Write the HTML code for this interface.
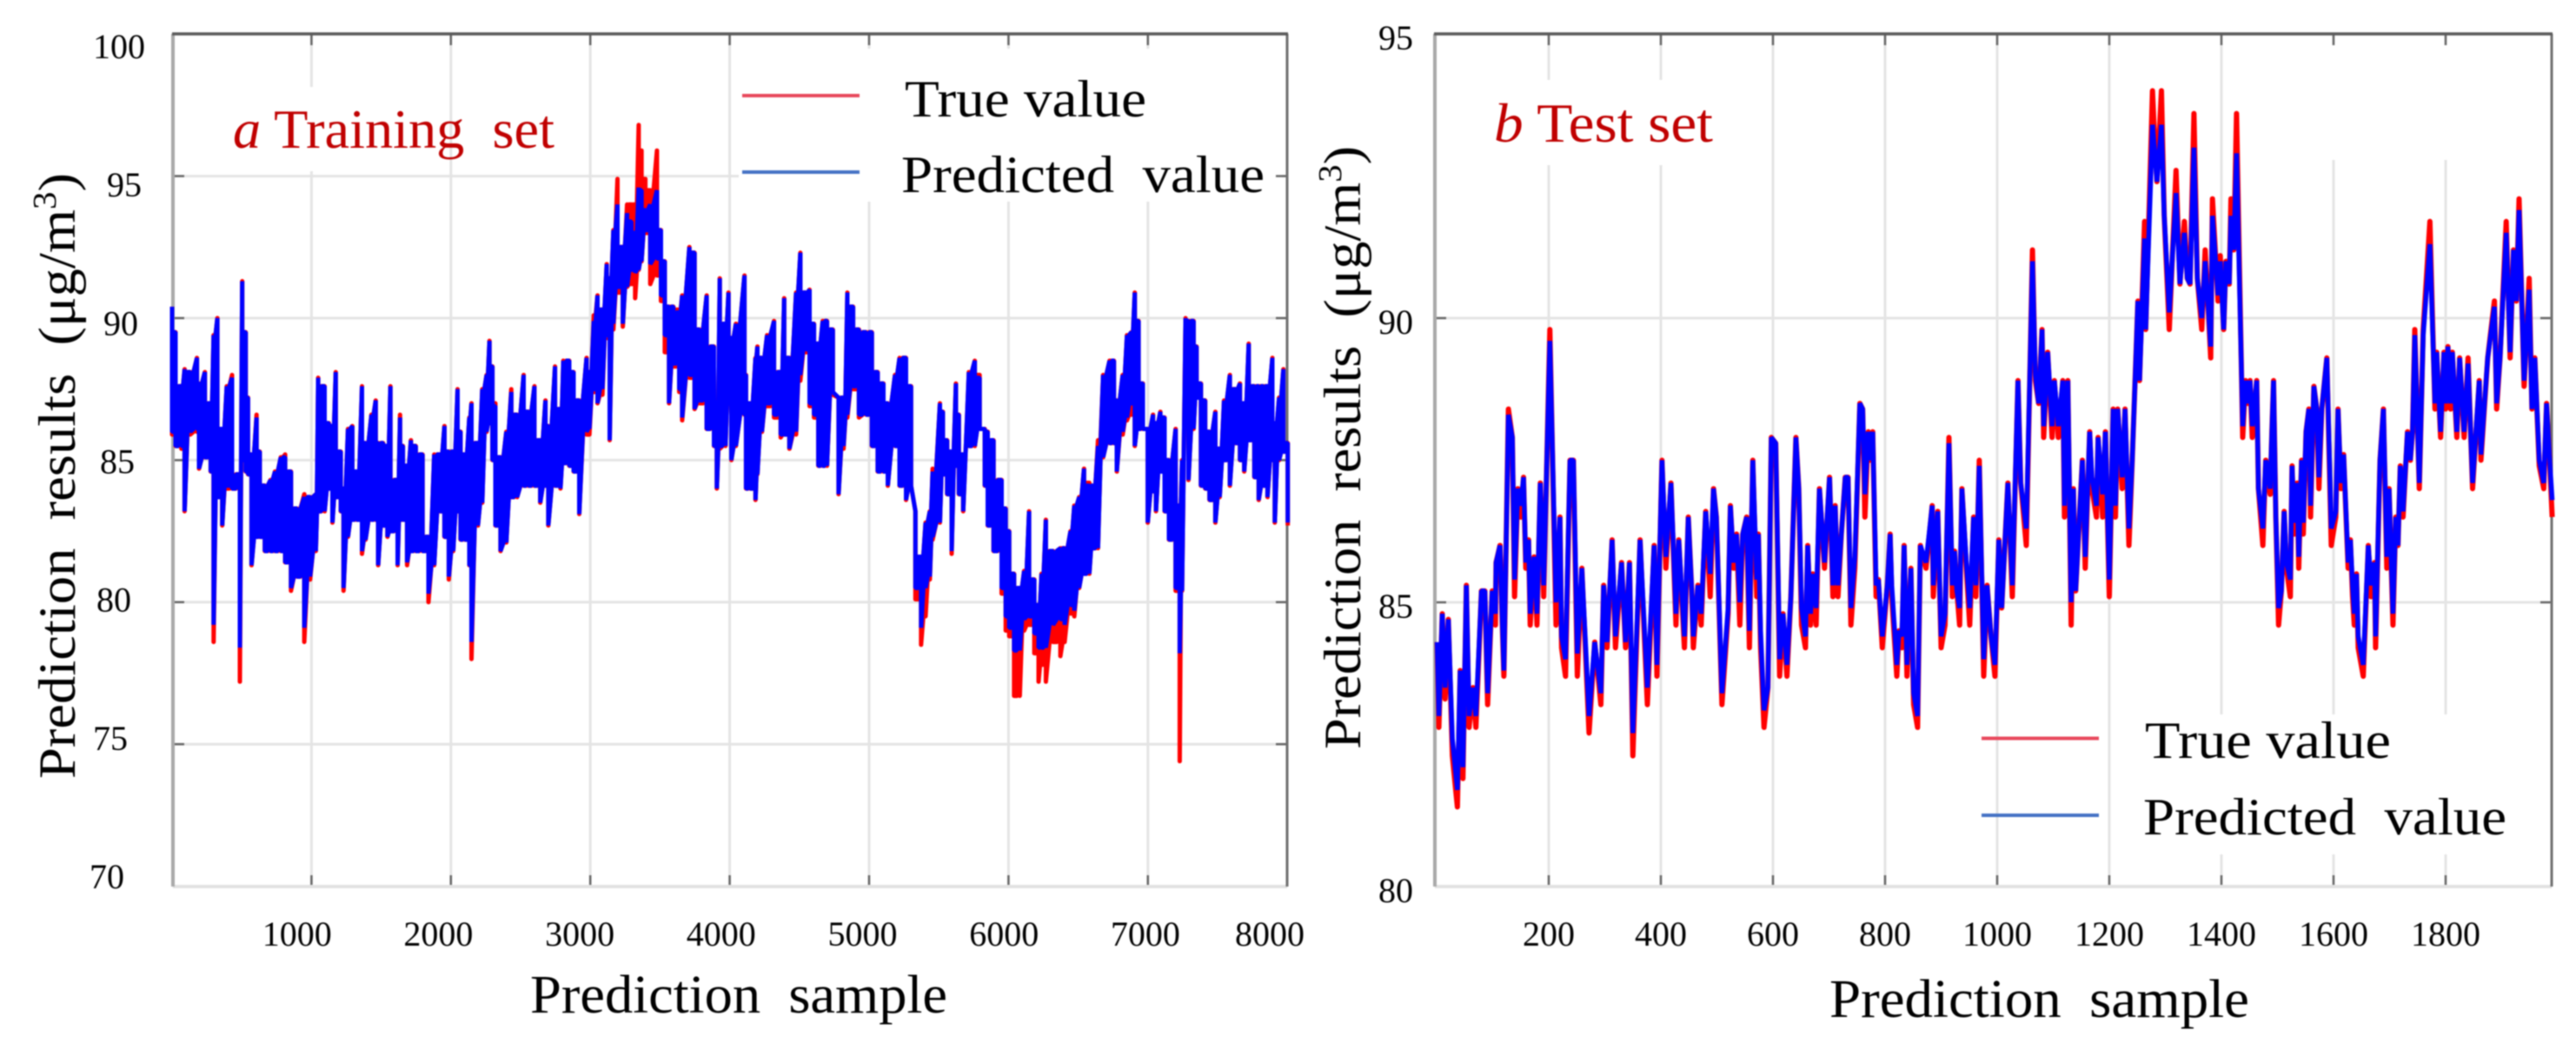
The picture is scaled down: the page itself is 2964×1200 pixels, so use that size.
<!DOCTYPE html>
<html lang="en">
<head>
<meta charset="utf-8">
<title>Prediction results: training set and test set</title>
<style>
html,body{margin:0;padding:0;background:#fff;}
svg{display:block;filter:blur(0.7px);font-family:"Liberation Serif",serif;}
text{white-space:pre;}
</style>
</head>
<body>
<svg id="chart" xmlns="http://www.w3.org/2000/svg" width="2964" height="1200" viewBox="0 0 2964 1200">
  <rect x="0" y="0" width="2964" height="1200" fill="#fff"/>
  <g id="panel-a"></g>
  <g id="panel-b"></g>

  <text x="268" y="170" font-size="63" fill="#c00000" textLength="370" lengthAdjust="spacingAndGlyphs"><tspan font-style="italic">a</tspan> Training  set</text>
  <line x1="854" y1="110" x2="989" y2="110" stroke="#e8485c" stroke-width="4"/>
  <line x1="854" y1="198" x2="989" y2="198" stroke="#4472c4" stroke-width="4"/>
  <text x="1041" y="134" font-size="60" fill="#000" textLength="278" lengthAdjust="spacingAndGlyphs">True value</text>
  <text x="1037" y="221" font-size="60" fill="#000" textLength="418" lengthAdjust="spacingAndGlyphs">Predicted  value</text>
  <text x="610" y="1165" font-size="62" fill="#000" textLength="480" lengthAdjust="spacingAndGlyphs">Prediction  sample</text>
  <text transform="translate(86,896) rotate(-90)" font-size="60" fill="#000" textLength="697" lengthAdjust="spacingAndGlyphs">Prediction  results  (μg/m<tspan dy="-22" font-size="38">3</tspan><tspan dy="22">)</tspan></text>

  <text x="1719" y="163" font-size="63" fill="#c00000" textLength="252" lengthAdjust="spacingAndGlyphs"><tspan font-style="italic">b</tspan> Test set</text>
  <line x1="2280" y1="849.5" x2="2415" y2="849.5" stroke="#e8485c" stroke-width="4"/>
  <line x1="2280" y1="938" x2="2415" y2="938" stroke="#4472c4" stroke-width="4"/>
  <text x="2468" y="872" font-size="60" fill="#000" textLength="283" lengthAdjust="spacingAndGlyphs">True value</text>
  <text x="2466" y="960" font-size="60" fill="#000" textLength="418" lengthAdjust="spacingAndGlyphs">Predicted  value</text>
  <text x="2105" y="1170" font-size="62" fill="#000" textLength="483" lengthAdjust="spacingAndGlyphs">Prediction  sample</text>
  <text transform="translate(1565,862) rotate(-90)" font-size="60" fill="#000" textLength="694" lengthAdjust="spacingAndGlyphs">Prediction  results  (μg/m<tspan dy="-22" font-size="38">3</tspan><tspan dy="22">)</tspan></text>
</svg>

<script>
// ---------- Panel a (training set) ----------
const xTicksA = [1000,2000,3000,4000,5000,6000,7000,8000];
const yTicksA = [100,95,90,85,80,75,70];
const sampleA = [
0,25,67,90,130,178,193,235,277,298,
325,360,392,430,486,503,528,545,570,606,
629,665,706,738,780,811,853,895,948,990,
1031,1048,1094,1125,1150,1174,1210,1230,1262,1293,
1325,1362,1388,1430,1461,1478,1514,1545,1566,1618,
1635,1656,1686,1713,1748,1797,1839,1880,1922,1954,
1985,2017,2048,2069,2100,2132,2148,2194,2225,2256,
2277,2298,2319,2356,2398,2433,2475,2522,2557,2599,
2641,2678,2699,2747,2786,2807,2849,2880,2921,2973,
2994,3025,3052,3087,3118,3139,3166,3195,3233,3264,
3295,3322,3347,3368,3395,3430,3478,3507,3534,3565,
3596,3638,3659,3711,3748,3783,3835,3887,3908,3929,
3970,3991,4012,4044,4106,4117,4147,4185,4199,4231,
4268,4318,4366,4391,4428,4476,4507,4546,4573,4605,
4636,4667,4698,4740,4781,4817,4844,4885,4927,4979,
5020,5062,5103,5134,5186,5218,5265,5301,5332,5373,
5405,5436,5456,5508,5529,5560,5592,5623,5644,5675,
5716,5758,5793,5830,5851,5893,5951,5980,6005,6040,
6081,6112,6148,6185,6216,6237,6268,6320,6372,6403,
6445,6472,6507,6542,6580,6605,6642,6679,6725,6756,
6777,6819,6850,6881,6906,6933,6964,6999,7037,7058,
7089,7120,7151,7199,7228,7245,7270,7291,7328,7349,
7380,7411,7442,7484,7515,7546,7588,7629,7660,7691,
7723,7764,7795,7827,7858,7893,7910,7941,7972,8003];
const predictedHighA = [
90.4,89.5,87.6,88.2,88.1,88.6,87.7,88.1,87.0,89.4,
90.0,86.1,87.6,87.9,84.5,91.3,89.5,87.2,85.2,86.5,
85.3,84.1,84.3,84.6,85.1,85.1,84.6,83.3,83.7,83.7,
83.8,87.9,87.6,86.3,86.2,88.1,85.3,84.0,86.1,86.2,
84.6,87.6,85.6,86.6,87.1,85.6,85.6,85.5,87.6,84.3,
86.5,85.5,84.8,85.7,85.5,85.2,82.3,85.2,85.2,86.2,
85.3,85.3,87.5,86.0,85.2,86.5,87.0,85.6,87.5,88.0,
89.2,88.3,86.9,85.1,86.0,87.4,86.6,88.0,86.7,87.6,
85.7,87.1,86.2,88.3,86.8,88.5,88.5,88.1,87.1,88.6,
88.1,89.9,90.8,90.3,91.9,91.4,93.1,94.0,92.5,93.7,
93.4,93.0,94.6,94.5,93.8,94.0,94.5,93.1,92.0,90.4,
90.4,90.2,90.8,92.5,92.3,89.6,90.8,89.0,87.0,91.4,
89.8,90.9,89.3,89.8,91.5,88.0,87.0,88.6,89.0,88.6,
89.4,89.9,88.1,90.7,88.6,90.9,92.3,90.9,91.0,89.8,
89.1,89.9,89.9,89.6,87.2,87.2,90.9,90.4,89.6,89.5,
89.5,88.1,87.7,87.0,88.0,88.6,88.6,87.6,83.2,81.6,
82.8,83.2,84.6,87.0,86.7,85.7,85.3,87.7,86.6,85.2,
88.1,88.5,87.9,86.1,86.0,85.7,84.3,83.3,82.5,81.0,
80.5,81.1,83.2,80.8,79.9,81.0,82.9,81.8,81.9,81.9,
82.5,83.4,83.7,84.7,84.1,84.1,85.5,88.0,88.5,88.5,
87.1,88.0,89.4,89.5,90.9,89.9,87.7,86.1,86.6,86.3,
86.7,86.5,85.0,86.1,83.4,85.0,90.0,89.9,89.9,89.0,
87.7,87.1,86.0,86.7,85.4,87.1,88.0,87.5,87.7,87.0,
89.1,87.6,87.6,87.6,87.6,88.6,86.3,87.2,88.2,85.6];
const predictedLowA = [
86.0,85.5,85.5,83.2,86.0,86.1,84.7,85.1,84.6,79.2,
83.7,82.7,84.1,84.0,78.4,85.0,84.6,84.5,81.3,82.3,
82.3,81.8,81.8,81.8,81.8,81.4,80.5,80.9,79.1,80.9,
81.8,83.2,83.2,84.0,82.8,83.7,83.2,80.5,82.3,82.9,
82.9,81.8,82.2,82.9,82.9,81.3,82.7,82.3,82.5,81.3,
82.9,82.9,81.4,81.8,81.8,81.8,80.3,81.3,83.2,82.3,
80.9,81.8,83.2,82.2,82.2,81.3,78.6,82.7,83.5,86.0,
86.3,85.0,82.7,81.8,82.1,83.7,83.7,84.1,84.1,84.1,
83.5,84.1,82.7,84.1,84.0,84.9,84.8,84.6,83.1,86.0,
86.1,87.5,87.0,87.5,89.4,85.7,89.8,91.1,89.8,91.1,
91.7,91.6,91.7,92.0,93.1,91.9,92.1,90.8,89.4,87.0,
88.4,87.5,86.5,88.0,86.8,87.1,86.1,85.5,84.0,85.5,
85.5,87.0,85.0,85.5,86.6,84.0,84.0,83.6,84.5,86.0,
87.0,86.6,85.9,85.9,85.4,86.0,88.0,88.9,87.0,86.6,
84.8,84.8,84.8,87.4,83.8,85.5,86.6,87.6,86.6,86.6,
85.5,84.6,84.6,84.1,85.5,84.1,83.6,84.1,80.5,79.1,
80.5,80.9,82.3,82.8,84.5,83.8,81.8,84.8,83.8,83.2,
85.5,85.5,86.1,84.1,82.7,81.8,80.5,79.5,79.1,78.3,
78.3,79.4,79.5,78.9,78.4,78.4,78.4,79.2,79.4,79.2,
79.9,79.7,80.5,81.0,81.0,81.9,81.9,85.1,85.6,85.6,
84.6,86.0,86.5,87.0,85.5,86.1,86.1,82.8,83.9,83.2,
84.6,83.2,82.2,80.5,78.2,80.4,87.0,84.3,86.1,87.2,
84.1,84.0,83.6,82.8,83.7,85.0,84.1,85.6,85.0,84.6,
85.7,84.4,83.6,84.1,83.7,85.0,82.8,85.0,85.3,82.8];
const trueHighA = [
90.4,89.5,87.6,88.2,88.1,88.6,87.7,88.1,87.0,89.4,
90.0,86.1,87.6,88.0,84.5,91.3,89.5,87.2,85.2,86.6,
85.3,84.1,84.3,84.6,85.1,85.2,84.6,83.3,83.8,83.7,
83.8,87.9,87.6,86.3,86.2,88.1,85.3,84.0,86.1,86.2,
84.6,87.6,85.6,86.6,87.1,85.6,85.6,85.5,87.6,84.3,
86.6,85.5,84.8,85.7,85.5,85.2,82.3,85.2,85.2,86.2,
85.3,85.3,87.5,86.0,85.2,86.5,87.0,85.6,87.5,88.0,
89.2,88.3,87.0,85.1,86.0,87.5,86.6,88.0,86.7,87.6,
85.7,87.1,86.2,88.3,86.8,88.5,88.5,88.1,87.1,88.6,
88.1,90.1,90.8,90.3,91.9,91.4,93.1,94.9,92.5,94.0,
94.0,94.0,96.8,95.9,94.9,94.5,95.9,93.1,92.0,90.4,
90.4,90.3,90.8,92.5,92.3,89.6,90.8,89.0,87.0,91.4,
89.8,90.9,89.3,89.8,91.5,88.0,87.0,88.6,89.0,88.6,
89.4,89.9,88.1,90.7,88.6,90.9,92.3,90.9,91.0,89.8,
89.1,89.9,89.9,89.6,87.2,87.2,90.9,90.4,89.6,89.5,
89.5,88.1,87.7,87.0,88.0,88.6,88.6,87.6,83.2,81.6,
82.8,83.2,84.7,87.0,86.7,85.7,85.3,87.7,86.6,85.2,
88.1,88.5,88.0,86.1,86.0,85.7,84.3,83.3,82.5,81.0,
80.5,81.1,83.2,80.8,79.9,81.0,82.9,81.8,81.9,81.9,
82.5,83.4,83.7,84.7,84.2,84.1,85.7,88.0,88.5,88.5,
87.1,88.0,89.4,89.5,90.9,89.9,87.7,86.1,86.6,86.3,
86.7,86.5,85.0,86.1,83.4,85.0,90.0,89.9,89.9,89.0,
87.7,87.1,86.0,86.7,85.4,87.1,88.0,87.5,87.7,87.0,
89.1,87.6,87.6,87.6,87.6,88.6,86.3,87.2,88.2,85.6];
const trueLowA = [
85.9,85.5,85.4,83.2,85.9,86.0,84.7,85.1,84.6,78.6,
83.7,82.7,84.0,84.0,77.2,85.0,84.6,84.5,81.3,82.3,
82.3,81.8,81.8,81.8,81.8,81.4,80.4,80.9,78.6,80.8,
81.8,83.2,83.2,84.0,82.8,83.7,83.2,80.4,82.3,82.9,
82.9,81.7,82.2,82.9,82.9,81.3,82.7,82.3,82.5,81.3,
82.9,82.9,81.3,81.8,81.8,81.8,80.0,81.3,83.2,82.3,
80.8,81.8,83.2,82.2,82.2,81.3,78.0,82.7,83.5,86.0,
86.3,85.0,82.7,81.8,82.1,83.7,83.7,84.1,84.1,84.1,
83.5,84.1,82.7,84.1,84.0,84.9,84.8,84.6,83.1,85.9,
85.9,87.4,87.0,87.3,89.3,85.7,89.6,90.9,89.7,91.1,
91.2,90.7,91.7,92.0,93.0,91.2,91.5,90.6,88.8,87.0,
88.3,87.4,86.4,87.9,86.8,87.0,86.1,85.5,84.0,85.4,
85.5,87.0,85.0,85.5,86.6,84.0,84.0,83.6,84.5,86.0,
86.9,86.5,85.8,85.9,85.4,85.9,87.8,88.8,86.9,86.5,
84.8,84.8,84.8,87.3,83.8,85.4,86.5,87.5,86.5,86.6,
85.5,84.6,84.6,84.1,85.5,84.1,83.6,84.1,80.1,78.5,
79.5,80.8,82.2,82.8,84.5,83.8,81.7,84.8,83.8,83.2,
85.5,85.5,86.1,84.1,82.7,81.8,80.3,79.0,78.8,76.7,
76.7,79.0,79.2,78.2,77.2,77.8,77.2,78.6,78.1,78.6,
79.6,79.5,80.5,81.0,81.0,81.9,81.9,85.1,85.6,85.6,
84.6,85.9,86.4,86.6,85.5,86.1,86.1,82.8,83.9,83.2,
84.6,83.2,82.2,80.4,74.4,80.4,86.9,84.3,86.1,87.2,
84.1,84.0,83.6,82.8,83.7,85.0,84.1,85.6,85.0,84.6,
85.7,84.4,83.6,84.1,83.7,85.0,82.8,85.0,85.3,82.7];

// ---------- Panel b (test set) ----------
const xTicksB = [200,400,600,800,1000,1200,1400,1600,1800];
const yTicksB = [95,90,85,80];
const sampleB = [
1,4,10,15,21,28,37,42,47,53,
58,65,70,80,86,91,99,105,106,113,
120,128,135,139,145,150,155,159,164,167,
174,179,185,191,202,213,220,223,230,238,
244,251,259,272,282,293,298,304,313,319,
330,337,344,350,363,376,388,393,402,409,
418,427,432,442,449,455,458,466,472,480,
488,494,499,509,520,524,530,535,541,546,
553,558,564,571,574,578,584,591,597,605,
612,618,625,632,641,646,651,658,662,667,
671,677,683,692,701,707,711,716,722,729,
734,739,746,755,760,764,770,773,778,784,
788,795,804,809,812,821,825,830,834,839,
846,851,858,863,873,884,886,894,900,907,
914,920,924,928,933,937,945,951,958,962,
968,976,982,989,996,1003,1008,1019,1027,1037,
1042,1052,1063,1068,1074,1080,1083,1090,1098,1102,
1109,1117,1120,1126,1132,1136,1140,1152,1157,1165,
1169,1177,1180,1188,1193,1200,1207,1211,1215,1223,
1228,1235,1241,1251,1254,1263,1265,1277,1282,1285,
1293,1298,1307,1319,1326,1334,1339,1344,1351,1357,
1365,1371,1381,1384,1394,1398,1404,1408,1414,1417,
1422,1427,1438,1443,1447,1451,1455,1463,1466,1474,
1479,1487,1490,1493,1497,1502,1507,1512,1516,1523,
1526,1530,1535,1538,1543,1546,1551,1556,1559,1565,
1570,1574,1579,1588,1596,1604,1608,1613,1618,1626,
1630,1634,1637,1641,1644,1653,1662,1667,1673,1675,
1683,1689,1695,1699,1706,1711,1715,1719,1724,1732,
1737,1741,1745,1753,1760,1772,1781,1784,1791,1797,
1800,1804,1809,1812,1820,1825,1833,1840,1848,1860,
1863,1875,1887,1891,1897,1908,1915,1921,1926,1931,
1940,1949,1954,1959,1967,1975,1980,1985,1990];
const predictedB = [
84.3,83.0,84.8,83.5,84.7,82.6,81.7,83.8,82.1,85.3,
83.0,83.5,83.0,85.2,85.2,83.4,85.2,84.8,85.7,86.0,
83.8,88.3,87.9,85.4,87.0,86.7,87.2,85.7,86.1,84.8,
85.8,84.8,87.1,85.3,89.6,85.0,86.5,84.4,84.0,87.5,
87.5,84.1,85.6,83.0,84.3,83.4,85.3,84.3,86.1,84.4,
85.7,84.3,85.7,82.7,86.1,83.5,86.0,83.9,87.5,85.8,
87.1,84.8,86.1,84.4,86.5,85.2,84.4,85.3,84.8,86.6,
85.5,87.0,86.5,83.4,84.9,86.7,85.7,86.2,85.0,86.2,
86.5,84.5,87.5,85.4,86.2,84.5,83.1,83.5,87.9,87.8,
84.0,84.8,83.9,85.1,87.9,87.0,84.9,84.4,86.0,84.8,
85.5,84.9,87.0,85.7,87.2,85.3,86.7,85.3,86.2,87.2,
87.2,84.9,85.8,88.5,88.4,86.9,88.0,87.5,88.0,85.3,
85.4,84.4,85.3,86.2,85.3,83.9,84.5,84.4,86.0,83.9,
85.6,83.4,83.0,86.0,85.7,86.7,85.3,86.6,84.4,84.8,
87.8,85.3,85.9,85.2,84.9,87.0,85.7,84.9,86.5,85.3,
87.4,84.0,85.3,84.4,83.9,86.1,84.9,87.1,85.3,88.9,
87.1,86.3,91.0,89.0,88.5,89.8,88.1,89.4,88.1,88.9,
88.1,88.9,86.7,88.9,85.0,87.0,85.2,87.5,85.8,88.0,
87.2,86.7,87.9,86.9,88.0,85.4,88.4,86.7,88.4,87.2,
88.4,86.3,87.5,90.3,88.9,91.4,89.8,93.4,92.8,92.4,
93.4,91.8,90.1,92.2,90.6,91.5,90.7,90.6,93.0,90.7,
90.0,91.0,89.5,91.8,90.4,91.0,89.8,91.0,90.6,91.8,
91.2,92.9,88.1,88.9,88.5,88.9,88.1,88.9,87.0,86.3,
87.5,87.0,88.0,88.9,86.5,84.9,85.2,86.6,85.7,85.4,
87.4,86.4,87.1,85.8,87.5,86.4,88.0,88.4,86.7,88.8,
88.4,87.2,88.4,89.3,86.3,86.6,88.4,87.1,87.6,85.7,
86.1,85.3,84.8,85.5,84.4,83.9,86.0,85.3,85.7,84.4,
87.5,88.4,85.8,87.0,84.8,86.5,86.0,87.4,86.6,88.0,
87.5,88.0,89.7,87.1,89.7,91.3,88.5,89.4,88.0,89.4,
88.5,89.5,88.5,89.4,88.0,89.3,88.0,89.2,87.1,88.9,
87.6,89.3,90.2,88.5,89.3,91.5,89.4,91.2,90.3,91.9,
88.9,90.5,88.4,89.3,87.5,87.1,88.5,87.6,86.8];
const trueB = [
84.3,82.8,84.8,83.3,84.7,82.3,81.4,83.8,81.9,85.3,
82.8,83.5,82.8,85.2,85.2,83.2,85.2,84.6,85.7,86.0,
83.7,88.4,87.9,85.1,87.0,86.5,87.2,85.6,86.1,84.6,
85.8,84.6,87.1,85.1,89.8,84.6,86.5,84.2,83.7,87.5,
87.5,83.7,85.6,82.7,84.3,83.2,85.3,84.2,86.1,84.2,
85.7,84.2,85.7,82.3,86.1,83.2,86.0,83.7,87.5,85.6,
87.1,84.6,86.1,84.2,86.5,85.2,84.2,85.3,84.6,86.6,
85.1,87.0,86.5,83.2,84.8,86.7,85.6,86.2,84.6,86.2,
86.5,84.2,87.5,85.1,86.2,84.2,82.8,83.5,87.9,87.8,
83.7,84.8,83.7,85.1,87.9,87.0,84.6,84.2,86.0,84.6,
85.5,84.6,87.0,85.6,87.2,85.1,86.7,85.1,86.2,87.2,
87.2,84.6,85.6,88.5,88.4,86.5,88.0,87.5,88.0,85.1,
85.4,84.2,85.3,86.2,85.1,83.7,84.5,84.2,86.0,83.7,
85.6,83.2,82.8,86.0,85.6,86.7,85.1,86.6,84.2,84.6,
87.9,85.1,85.9,85.2,84.6,87.0,85.6,84.6,86.5,85.1,
87.5,83.7,85.3,84.4,83.7,86.1,84.9,87.1,85.1,88.9,
87.1,86.0,91.2,88.9,88.5,89.8,87.9,89.4,87.9,88.9,
87.9,88.9,86.5,88.9,84.6,87.0,85.2,87.5,85.6,88.0,
87.0,86.5,87.9,86.5,88.0,85.1,88.4,86.5,88.4,87.0,
88.4,86.0,87.5,90.3,88.9,91.7,89.8,94.0,92.9,92.4,
94.0,91.8,89.8,92.6,90.6,91.7,90.7,90.6,93.6,90.7,
89.8,91.2,89.3,92.1,90.3,91.1,89.8,91.0,90.6,92.1,
91.2,93.6,87.9,88.9,88.5,88.9,87.9,88.9,87.0,86.0,
87.5,86.9,88.0,88.9,86.5,84.6,85.2,86.6,85.6,85.1,
87.4,86.2,87.1,85.6,87.5,86.2,88.0,88.4,86.5,88.8,
88.4,87.0,88.4,89.3,86.0,86.5,88.4,87.0,87.6,85.6,
86.1,85.1,84.6,85.5,84.2,83.7,86.0,85.1,85.7,84.2,
87.5,88.4,85.6,87.0,84.6,86.5,86.0,87.4,86.5,88.0,
87.5,88.0,89.8,87.0,89.8,91.7,88.4,89.4,87.9,89.4,
88.4,89.5,88.4,89.4,87.9,89.3,87.9,89.3,87.0,88.9,
87.5,89.3,90.3,88.4,89.3,91.7,89.3,91.2,90.3,92.1,
88.8,90.7,88.4,89.3,87.4,87.0,88.5,87.6,86.5];

// ---------- Axis functions ----------
const xA = v => 198 + v * 0.1604;
const yA = v => 366 - (v - 90) * 32.68;
const xB = v => 1653 + v * 0.645;
const yB = v => 366 - (v - 90) * 65.4;
const tickLabelXA = v => Math.min(179 + v * 0.1627, 1461);
const tickLabelYA = v => 54 + (100 - v) * 31.83 + 13;
const tickLabelRightA = v => 155 + (v - 85) * 0.8;

const NS = 'http://www.w3.org/2000/svg';
function add(tag, parent, attrs, txt) {
  const el = document.createElementNS(NS, tag);
  for (const k in attrs) el.setAttribute(k, attrs[k]);
  if (txt !== undefined) el.textContent = txt;
  parent.appendChild(el);
  return el;
}

// Swing from each high to low, then across the span shared by neighbouring swings so the noisy band reads as solid.
function hiLoPath(samples, highs, lows, x, y) {
  let d = '';
  samples.forEach((s, i) => {
    const px = x(s).toFixed(1);
    d += (i ? 'L' : 'M') + px + ' ' + y(highs[i]).toFixed(1) + 'L' + px + ' ' + y(lows[i]).toFixed(1);
    if (i + 1 < samples.length) {
      const coreTop = Math.min(highs[i], highs[i + 1]);
      const coreBottom = Math.max(lows[i], lows[i + 1]);
      if (coreTop > coreBottom) {
        const mid = x((s + samples[i + 1]) / 2).toFixed(1);
        d += 'L' + mid + ' ' + y(coreBottom).toFixed(1) + 'L' + mid + ' ' + y(coreTop).toFixed(1);
      }
    }
  });
  return d;
}
function linePath(samples, values, x, y) {
  return samples.map((s, i) => (i ? 'L' : 'M') + x(s).toFixed(1) + ' ' + y(values[i]).toFixed(1)).join('');
}

function drawFrame(g, L, R, T, B, xTicks, yTicks, x, y, masks) {
  xTicks.forEach(t => {
    if (x(t) >= R - 2) return;
    const grid = add('line', g, {x1:x(t), x2:x(t), y1:T, y2:B, stroke:'#e4e4e4', 'stroke-width':3});
    
    
  });
  yTicks.forEach(t => {
    if (y(t) <= T + 2 || y(t) >= B - 2) return;
    const grid = add('line', g, {x1:L, x2:R, y1:y(t), y2:y(t), stroke:'#e4e4e4', 'stroke-width':3});
    
    
  });
  masks.forEach(m => {
    const mask = add('rect', g, {x:m[0], y:m[1], width:m[2], height:m[3], fill:'#fff'});
    
    
  });
  xTicks.forEach(t => {
    if (x(t) >= R - 2) return;
    const topTick = add('line', g, {x1:x(t), x2:x(t), y1:T, y2:T + 13, stroke:'#666', 'stroke-width':2.5});
    
    
    const bottomTick = add('line', g, {x1:x(t), x2:x(t), y1:B - 13, y2:B, stroke:'#666', 'stroke-width':2.5});
    
    
  });
  yTicks.forEach(t => {
    if (y(t) <= T + 2 || y(t) >= B - 2) return;
    const leftTick = add('line', g, {x1:L, x2:L + 13, y1:y(t), y2:y(t), stroke:'#666', 'stroke-width':2.5});
    
    
    const rightTick = add('line', g, {x1:R - 13, x2:R, y1:y(t), y2:y(t), stroke:'#666', 'stroke-width':2.5});
    
    
  });
  const bottomAxis = add('line', g, {x1:L, x2:R, y1:B, y2:B, stroke:'#e2e2e2', 'stroke-width':4});
  
  
  const leftAxis = add('line', g, {x1:L, x2:L, y1:T, y2:B, stroke:'#a8a8a8', 'stroke-width':4});
  
  
  const rightEdge = add('line', g, {x1:R, x2:R, y1:T, y2:B, stroke:'#6e6e6e', 'stroke-width':3});
  
  
  const topEdge = add('line', g, {x1:L - 1, x2:R + 1, y1:T, y2:T, stroke:'#5a5a5a', 'stroke-width':3.5});
  
  
}

// ---------- Panel a drawing ----------
const gA = document.getElementById('panel-a');
drawFrame(gA, 199, 1481, 39, 1020, xTicksA, yTicksA, xA, yA, [[232,100,270,97],[850,56,625,176]]);
const trueLineA = add('path', gA, {d:hiLoPath(sampleA, trueHighA, trueLowA, xA, yA), fill:'none', stroke:'#ff0000', 'stroke-width':5, 'stroke-linejoin':'round'});


const predLineA = add('path', gA, {d:hiLoPath(sampleA, predictedHighA, predictedLowA, xA, yA), fill:'none', stroke:'#0000ff', 'stroke-width':5, 'stroke-linejoin':'bevel'});


xTicksA.forEach(t => {
  const lab = add('text', gA, {x:tickLabelXA(t), y:1088, 'font-size':40, 'text-anchor':'middle', fill:'#000'}, String(t));
  
  
});
yTicksA.forEach(t => {
  const lab = add('text', gA, {x:tickLabelRightA(t), y:tickLabelYA(t), 'font-size':40, 'text-anchor':'end', fill:'#000'}, String(t));
  
  
});

// ---------- Panel b drawing ----------
const gB = document.getElementById('panel-b');
drawFrame(gB, 1651, 2936, 39, 1020, xTicksB, yTicksB, xB, yB, [[1700,92,300,98],[2670,52,230,132],[2440,822,470,161]]);
const trueLineB = add('path', gB, {d:linePath(sampleB, trueB, xB, yB), fill:'none', stroke:'#ff0000', 'stroke-width':6, 'stroke-linejoin':'round'});


const predLineB = add('path', gB, {d:linePath(sampleB, predictedB, xB, yB), fill:'none', stroke:'#0000ff', 'stroke-width':5.5, 'stroke-linejoin':'bevel'});


xTicksB.forEach(t => {
  const lab = add('text', gB, {x:xB(t), y:1088, 'font-size':40, 'text-anchor':'middle', fill:'#000'}, String(t));
  
  
});
yTicksB.forEach(t => {
  const lab = add('text', gB, {x:1626, y:yB(t) + 18, 'font-size':40, 'text-anchor':'end', fill:'#000'}, String(t));
  
  
});
</script>
</body>
</html>
